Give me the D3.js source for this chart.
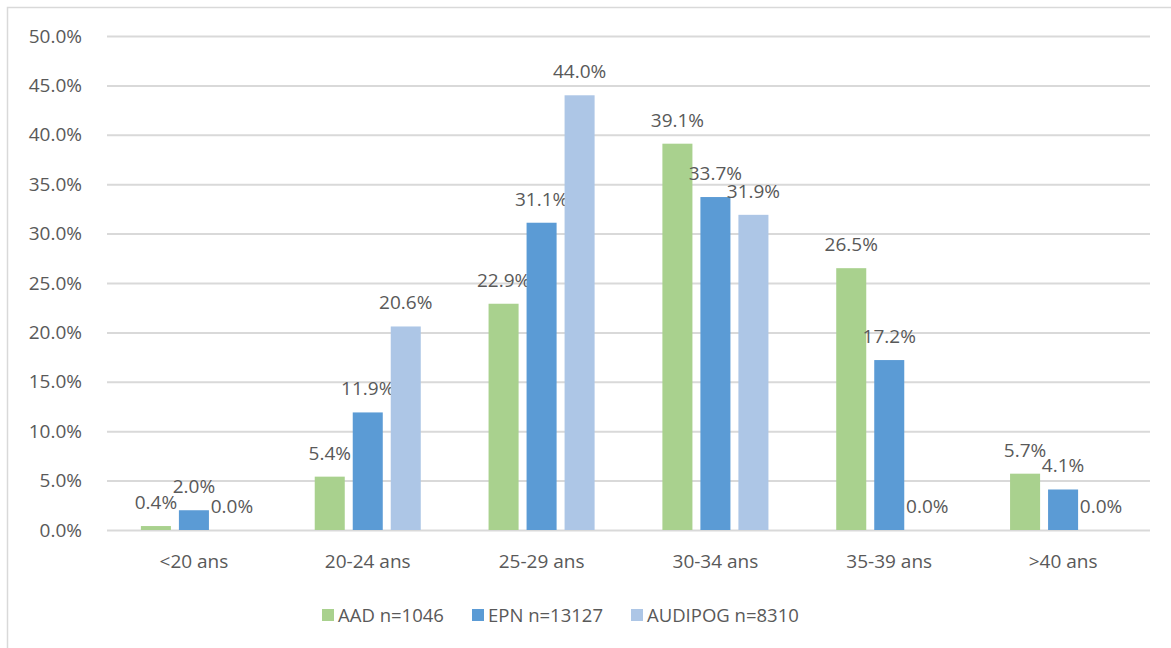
<!DOCTYPE html>
<html lang="en">
<head>
<meta charset="UTF-8">
<style>
  body { margin: 0; background: #fff; }
  text { font-family: "Open Sans", sans-serif; fill: #595959; }
</style>
</head>
<body>
<script src="https://d3js.org/d3.v7.min.js"></script>
<script>
var categories = ['<20 ans', '20-24 ans', '25-29 ans', '30-34 ans', '35-39 ans', '>40 ans']
var seriesNames = ['AAD n=1046', 'EPN n=13127', 'AUDIPOG n=8310']
var aad = [0.4, 5.4, 22.9, 39.1, 26.5, 5.7]
var epn = [2.0, 11.9, 31.1, 33.7, 17.2, 4.1]
var audipog = [0.0, 20.6, 44.0, 31.9, 0.0, 0.0]
var yTicks = [0, 5, 10, 15, 20, 25, 30, 35, 40, 45, 50]
var colors = ['#A9D18E', '#5B9BD5', '#ADC6E6']

var series = [aad, epn, audipog]
var svgWidth = 1171, svgHeight = 648
var plotLeft = 107, plotRight = 1150, plotTop = 36, plotBottom = 530

var svg = d3.select('body').append('svg')
    .attr('width', svgWidth)
    .attr('height', svgHeight)

// chart frame
svg.append('rect')
    .attr('x', 7.5).attr('y', 7.5)
    .attr('width', svgWidth).attr('height', svgHeight)
    .attr('fill', 'none').attr('stroke', '#D9D9D9').attr('stroke-width', 1.5)

var x0 = d3.scaleBand().domain(categories).range([plotLeft, plotRight]).paddingInner(0.39).paddingOuter(0.195)
var x1 = d3.scaleBand().domain(d3.range(3)).range([0, x0.bandwidth()]).paddingInner(0.21)
var y = d3.scaleLinear().domain([0, 50]).range([plotBottom, plotTop])

var yAxis = svg.append('g')
    .attr('transform', 'translate(' + plotLeft + ',0)')
    .call(d3.axisLeft(y).tickValues(yTicks).tickSize(-(plotRight - plotLeft)).tickPadding(25)
        .tickFormat(d => d.toFixed(1) + '%'))
yAxis.select('.domain').remove()
yAxis.selectAll('line').attr('stroke', '#D9D9D9').attr('stroke-width', 2)
yAxis.selectAll('text').style('font-size', '19px').style('font-family', '"Open Sans", sans-serif').attr('fill', '#595959')

var groups = svg.selectAll('.grp').data(categories).enter().append('g')
    .attr('transform', d => 'translate(' + x0(d) + ',0)')

groups.each(function (cat, ci) {
    var g = d3.select(this)
    series.forEach(function (s, si) {
        var v = s[ci]
        g.append('rect')
            .attr('x', x1(si))
            .attr('y', y(v))
            .attr('width', x1.bandwidth())
            .attr('height', plotBottom - y(v))
            .attr('fill', colors[si])
        g.append('text')
            .attr('x', x1(si) + x1.bandwidth() / 2)
            .attr('y', y(v) - 17)
            .attr('text-anchor', 'middle')
            .style('font-size', '19px')
            .text(v.toFixed(1) + '%')
    })
})

// category labels
svg.selectAll('.cat').data(categories).enter().append('text')
    .attr('x', d => x0(d) + x0.bandwidth() / 2)
    .attr('y', 568)
    .attr('text-anchor', 'middle')
    .style('font-size', '19px')
    .text(d => d)

// legend
var legendX = [322, 472, 631]
var legend = svg.selectAll('.leg').data(seriesNames).enter().append('g')
    .attr('transform', (d, i) => 'translate(' + legendX[i] + ',609)')
legend.append('rect').attr('width', 12).attr('height', 12).attr('fill', (d, i) => colors[i])
legend.append('text').attr('x', 16).attr('y', 13).style('font-size', '18.5px').text(d => d)
</script>
</body>
</html>
